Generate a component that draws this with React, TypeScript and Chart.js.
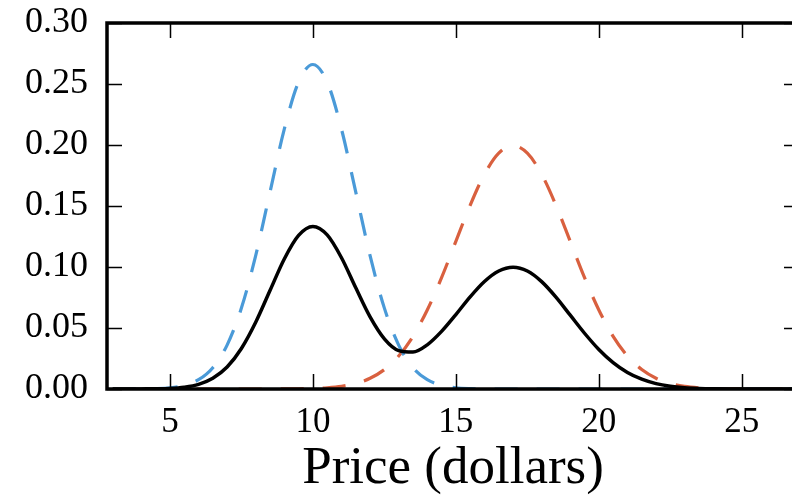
import React, { useEffect, useRef } from "react";
import { Chart, registerables } from "chart.js";

Chart.register(...registerables);

const xs = [
  3, 3.5, 4, 4.5, 5, 5.5, 6, 6.5, 7, 7.5, 8, 8.5, 9, 9.5, 10, 10.5, 11, 11.5, 12, 12.5,
  13, 13.5, 14, 14.5, 15, 15.5, 16, 16.5, 17, 17.5, 18, 18.5, 19, 19.5, 20, 20.5, 21, 21.5,
  22, 22.5, 23, 23.5, 24, 24.5, 25, 25.5, 26, 26.5, 27,
];

const blueDensity = [
  0, 0, 0.0001, 0.0003, 0.001, 0.003, 0.0076, 0.0175, 0.036, 0.0663, 0.1093, 0.1613, 0.213,
  0.2516, 0.266, 0.2516, 0.213, 0.1613, 0.1093, 0.0663, 0.036, 0.0175, 0.0076, 0.003, 0.001,
  0.0003, 0.0001, 0, 0, 0, 0, 0, 0, 0, 0, 0, 0, 0, 0, 0, 0, 0, 0, 0, 0, 0, 0, 0, 0,
];

const redDensity = [
  0, 0, 0, 0, 0, 0, 0, 0, 0, 0, 0, 0, 0.0001, 0.0002, 0.0004, 0.001, 0.0022, 0.0045, 0.0088,
  0.0159, 0.027, 0.0431, 0.0648, 0.0913, 0.121, 0.1506, 0.176, 0.1933, 0.1995, 0.1933, 0.176,
  0.1506, 0.121, 0.0913, 0.0648, 0.0431, 0.027, 0.0159, 0.0088, 0.0045, 0.0022, 0.001, 0.0004,
  0.0002, 0.0001, 0, 0, 0, 0,
];

const mixDensity = [
  0, 0, 0.0001, 0.0002, 0.0005, 0.0015, 0.0038, 0.0088, 0.018, 0.0332, 0.0547, 0.0807, 0.1066,
  0.1259, 0.1332, 0.1263, 0.1076, 0.0829, 0.0591, 0.0411, 0.0315, 0.0303, 0.0362, 0.0472,
  0.061, 0.0755, 0.0881, 0.0967, 0.0998, 0.0967, 0.088, 0.0753, 0.0605, 0.0457, 0.0324,
  0.0216, 0.0135, 0.008, 0.0044, 0.0023, 0.0011, 0.0005, 0.0002, 0.0001, 0.0001, 0, 0, 0, 0,
];

const xTicks = [5, 10, 15, 20, 25];
const yTicks = [0, 0.05, 0.1, 0.15, 0.2, 0.25, 0.3];
const xLabel = "Price (dollars)";

const FONT = "'Liberation Serif', 'DejaVu Serif', serif";

const framePlugin = {
  id: "frame",
  afterDraw(chart: any) {
    const { ctx, chartArea } = chart;
    const { left, right, top, bottom } = chartArea;
    const xs_ = chart.scales.x;
    const ys_ = chart.scales.y;
    ctx.save();
    ctx.strokeStyle = "#000";
    ctx.lineWidth = 1.5;
    const tl = 15;
    ctx.beginPath();
    for (const v of xTicks) {
      const px = Math.round(xs_.getPixelForValue(v)) + 0.5;
      ctx.moveTo(px, bottom);
      ctx.lineTo(px, bottom - tl);
      ctx.moveTo(px, top);
      ctx.lineTo(px, top + tl);
    }
    for (const v of yTicks) {
      const py = Math.round(ys_.getPixelForValue(v)) + 0.5;
      ctx.moveTo(left, py);
      ctx.lineTo(left + tl, py);
      ctx.moveTo(right, py);
      ctx.lineTo(right - tl, py);
    }
    ctx.stroke();
    ctx.lineWidth = 3.5;
    ctx.strokeRect(left, top, right - left, bottom - top);
    ctx.restore();
  },
};

export default function App() {
  const ref = useRef<HTMLCanvasElement>(null);
  useEffect(() => {
    document.body.style.margin = "0";
    document.body.style.overflow = "hidden";
    const canvas = ref.current!;
    const chart = new Chart(canvas, {
      type: "line",
      data: {
        datasets: [
          {
            data: xs.map((x, i) => ({ x, y: mixDensity[i] })),
            borderColor: "#000000",
            borderWidth: 3.5,
            pointRadius: 0,
            cubicInterpolationMode: "monotone",
          },
          {
            data: xs.map((x, i) => ({ x, y: blueDensity[i] })),
            borderColor: "#4A9AD8",
            borderWidth: 3.2,
            borderDash: [23, 19],
            pointRadius: 0,
            cubicInterpolationMode: "monotone",
          },
          {
            data: xs.map((x, i) => ({ x, y: redDensity[i] })),
            borderColor: "#D9603F",
            borderWidth: 3.2,
            borderDash: [23, 19],
            pointRadius: 0,
            cubicInterpolationMode: "monotone",
          },
        ],
      },
      options: {
        responsive: false,
        animation: false,
        layout: { padding: { left: 0, top: 23, right: 16, bottom: 0 } },
        plugins: { legend: { display: false }, tooltip: { enabled: false } },
        scales: {
          x: {
            type: "linear",
            min: 2.8,
            max: 27,
            afterBuildTicks: (s: any) => {
              s.ticks = xTicks.map((v) => ({ value: v }));
            },
            afterFit: (s: any) => {
              s.height = 107;
              s.paddingLeft = 0;
              s.paddingRight = 0;
              s.paddingTop = 0;
              s.paddingBottom = 0;
            },
            grid: { display: false, drawTicks: false },
            border: { display: false },
            ticks: {
              color: "#000",
              padding: 13,
              maxRotation: 0,
              font: { family: FONT, size: 35 },
              callback: (v: any) => String(v),
            },
            title: {
              display: true,
              text: xLabel,
              color: "#000",
              font: { family: FONT, size: 53, lineHeight: 1 },
              padding: { top: 0, bottom: 0 },
            },
          },
          y: {
            min: 0,
            max: 0.3,
            afterBuildTicks: (s: any) => {
              s.ticks = yTicks.map((v) => ({ value: v }));
            },
            afterFit: (s: any) => {
              s.width = 107;
              s.paddingLeft = 0;
              s.paddingRight = 0;
              s.paddingTop = 0;
              s.paddingBottom = 0;
            },
            grid: { display: false, drawTicks: false },
            border: { display: false },
            ticks: {
              color: "#000",
              padding: 19,
              font: { family: FONT, size: 36 },
              callback: (v: any) => Number(v).toFixed(2),
            },
          },
        },
      },
      plugins: [framePlugin],
    });
    return () => chart.destroy();
  }, []);
  return (
    <div style={{ position: "fixed", left: 0, top: 0, width: 815, height: 496, overflow: "hidden" }}>
      <canvas ref={ref} width={815} height={496} style={{ width: 815, height: 496, display: "block" }} />
    </div>
  );
}
